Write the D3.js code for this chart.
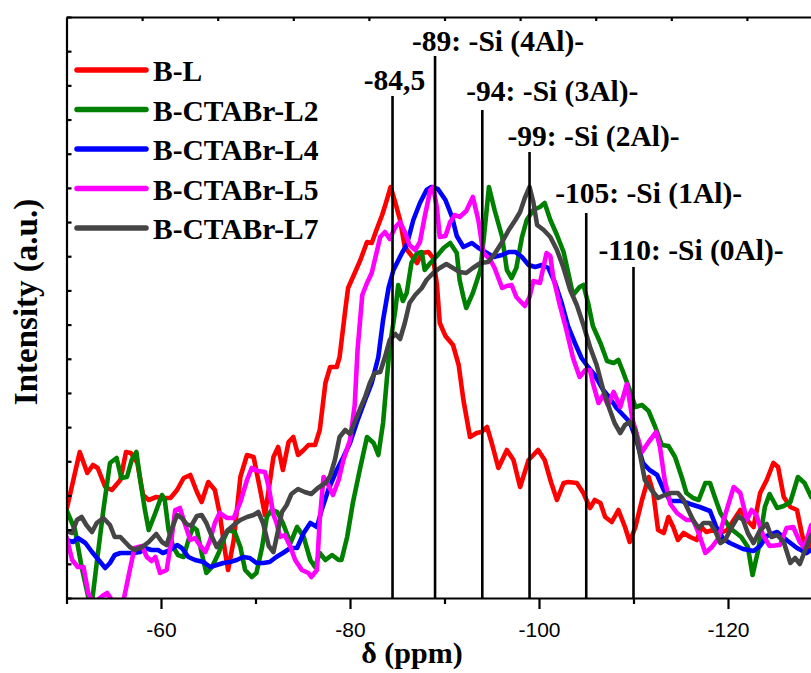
<!DOCTYPE html>
<html>
<head>
<meta charset="utf-8">
<script src="https://cdn.jsdelivr.net/npm/d3@7"></script>
<style>
  html, body { margin: 0; padding: 0; background: #ffffff; }
  svg { display: block; }
</style>
</head>
<body>
<svg id="chart" width="811" height="673"></svg>
<script>
// 29Si MAS NMR spectra: chemical shift (ppm) vs. intensity (a.u.)
const seriesNames = ["B-L", "B-CTABr-L2", "B-CTABr-L4", "B-CTABr-L5", "B-CTABr-L7"];

const blPpm = [-50.0,-51.4,-52.2,-52.8,-53.3,-54.1,-54.8,-55.7,-56.3,-56.8,-57.5,-58.1,-58.7,-59.5,-60.2,-61.0,-61.7,-62.4,-63.1,-63.8,-64.3,-65.0,-65.7,-66.2,-66.8,-67.1,-67.7,-68.4,-69.1,-69.8,-70.5,-71.0,-71.9,-72.4,-72.9,-73.5,-74.0,-74.5,-75.1,-75.6,-76.3,-76.8,-77.4,-77.9,-78.6,-78.9,-79.5,-79.8,-80.5,-81.1,-81.8,-82.3,-82.8,-83.4,-83.8,-84.3,-84.8,-85.3,-85.8,-86.3,-87.1,-87.6,-88.3,-88.8,-89.2,-89.5,-90.1,-90.9,-91.5,-92.0,-92.7,-93.4,-93.9,-94.5,-95.0,-95.7,-96.6,-97.3,-98.0,-98.9,-99.9,-100.6,-101.3,-101.9,-102.6,-103.1,-104.0,-104.7,-105.4,-105.9,-106.5,-107.0,-107.7,-108.4,-109.1,-109.6,-110.2,-110.9,-111.6,-112.1,-112.6,-113.2,-113.7,-114.2,-114.7,-115.3,-116.0,-116.7,-117.2,-117.7,-118.4,-119.2,-119.9,-120.6,-121.3,-122.0,-122.7,-123.4,-124.1,-124.8,-125.3,-125.9,-126.6,-127.3,-127.8,-128.3,-128.8];
const blInt = [88,146,125,133,130,111,108,118,146,145,135,103,98,101,100,100,108,120,123,106,96,116,108,85,45,28,58,121,143,141,108,83,141,151,128,156,161,143,148,153,153,168,215,231,231,241,288,310,325,338,356,355,368,383,395,411,395,378,351,345,335,345,346,340,313,275,262,253,233,198,161,165,166,171,155,130,148,138,111,138,148,138,115,98,115,116,115,105,90,98,95,81,76,88,71,56,71,98,121,105,68,65,81,71,58,65,61,58,71,66,68,65,68,78,88,78,71,105,118,135,131,101,91,88,65,45,58];

const l2Ppm = [-50.0,-50.9,-51.6,-52.3,-52.6,-53.2,-53.9,-54.6,-55.3,-55.8,-56.4,-56.9,-57.4,-57.8,-58.3,-58.7,-59.4,-60.1,-60.4,-60.8,-61.3,-61.8,-62.4,-62.9,-63.4,-63.8,-64.3,-64.8,-65.4,-66.1,-66.6,-67.1,-67.8,-68.4,-68.9,-69.6,-70.1,-70.7,-71.2,-71.7,-72.3,-72.9,-73.7,-74.4,-75.1,-75.8,-76.3,-76.8,-77.4,-78.1,-78.8,-79.1,-79.7,-80.3,-81.1,-81.8,-82.5,-83.0,-83.5,-83.8,-84.2,-84.8,-85.1,-85.6,-86.0,-86.5,-87.1,-87.6,-87.9,-88.5,-89.2,-89.9,-90.6,-91.3,-91.6,-92.0,-92.3,-93.0,-93.8,-94.3,-94.7,-95.3,-96.1,-96.6,-97.1,-97.6,-98.2,-98.7,-99.4,-100.1,-100.6,-101.2,-101.9,-102.6,-103.1,-103.6,-104.3,-104.7,-105.2,-105.7,-106.5,-107.2,-107.9,-108.4,-108.9,-109.6,-110.2,-110.9,-111.6,-112.3,-113.0,-113.7,-114.4,-115.1,-115.6,-116.3,-116.9,-117.6,-118.1,-118.6,-119.2,-120.2,-121.4,-122.1,-122.6,-123.2,-123.9,-124.4,-125.2,-125.9,-126.6,-127.4,-128.1,-128.8];
const l2Int = [88,68,31,1,-12,35,88,135,140,120,121,138,146,118,88,68,85,103,98,68,51,43,41,58,71,68,45,25,31,45,58,68,66,51,28,21,25,51,81,88,86,75,55,71,61,38,31,45,38,43,38,38,61,95,131,161,155,143,175,208,251,288,313,297,305,335,345,346,328,335,342,350,355,345,318,301,290,305,328,373,411,388,361,328,320,330,361,378,388,391,395,378,363,346,325,303,311,313,295,272,255,237,235,238,226,208,191,193,187,171,153,152,141,121,105,100,98,115,115,101,85,70,61,51,23,48,91,104,90,92,96,121,115,101];

const l4Ppm = [-50.0,-50.7,-51.2,-52.0,-52.7,-53.4,-54.1,-54.6,-55.1,-55.7,-56.4,-57.1,-57.8,-58.3,-59.0,-59.7,-60.2,-61.0,-61.7,-62.2,-62.9,-63.6,-64.5,-65.2,-65.9,-66.6,-67.3,-68.0,-68.7,-69.4,-70.1,-70.8,-71.5,-72.2,-72.9,-73.7,-74.4,-75.1,-75.8,-76.5,-77.0,-77.7,-78.6,-79.3,-80.0,-80.7,-81.6,-82.3,-83.0,-83.5,-84.1,-84.6,-85.5,-86.0,-86.7,-87.4,-88.1,-88.6,-89.3,-90.1,-90.8,-91.3,-92.0,-92.9,-93.6,-94.5,-95.2,-96.1,-96.8,-97.5,-98.2,-98.9,-99.6,-100.3,-101.0,-101.7,-102.4,-103.1,-103.8,-104.5,-105.2,-105.9,-106.8,-107.5,-108.2,-108.9,-109.6,-110.3,-111.0,-111.7,-112.5,-113.2,-113.9,-115.1,-116.0,-117.0,-118.1,-118.8,-119.5,-120.2,-121.6,-122.7,-123.4,-124.1,-125.2,-126.2,-127.3,-128.3,-128.8];
const l4Int = [58,56,60,55,46,38,30,35,43,45,45,45,46,50,48,48,45,48,53,50,41,38,36,31,33,35,36,38,41,40,35,35,36,41,45,50,50,65,75,71,88,108,128,141,155,175,198,215,241,278,311,328,345,353,378,395,408,411,409,398,381,362,351,355,350,345,341,343,346,346,341,333,331,333,330,315,295,271,255,240,231,223,208,200,190,183,176,158,135,128,123,108,97,97,94,91,87,70,59,55,49,47,52,62,66,58,50,45,48];

const l5Ppm = [-50.0,-50.6,-51.2,-51.8,-52.3,-52.8,-53.3,-53.8,-54.3,-54.8,-55.4,-56.0,-56.7,-57.2,-58.0,-58.5,-59.0,-59.4,-59.9,-60.6,-61.1,-61.5,-62.0,-62.5,-63.1,-63.6,-64.1,-64.7,-65.2,-65.7,-66.2,-67.0,-67.7,-68.4,-69.1,-69.6,-70.3,-71.0,-71.4,-71.9,-72.2,-72.6,-73.1,-73.7,-74.2,-74.9,-75.6,-75.9,-76.5,-76.8,-77.2,-77.7,-78.2,-78.8,-79.3,-80.0,-80.5,-80.8,-81.3,-81.8,-82.3,-82.8,-83.2,-83.7,-84.2,-84.8,-85.3,-85.8,-86.3,-86.9,-87.4,-87.9,-88.5,-88.8,-89.2,-89.5,-90.1,-90.6,-91.1,-91.6,-92.3,-93.0,-93.6,-94.1,-94.8,-95.3,-96.1,-96.6,-97.1,-97.6,-98.5,-99.0,-99.4,-100.1,-100.8,-101.2,-101.5,-102.2,-102.9,-103.6,-104.3,-104.9,-105.4,-105.7,-106.3,-106.8,-107.3,-107.9,-108.6,-109.3,-109.9,-110.9,-111.6,-112.4,-112.8,-113.3,-113.9,-114.6,-115.6,-116.3,-116.9,-117.6,-118.3,-119.0,-119.7,-120.6,-121.3,-122.0,-122.5,-123.0,-123.7,-124.4,-125.5,-126.2,-126.9,-127.6,-128.1,-128.8];
const l5Int = [61,38,31,31,5,-5,-2,2,5,-2,-6,-4,28,50,52,41,37,41,25,28,58,88,90,75,58,60,53,46,58,75,85,80,80,96,118,130,127,126,111,83,76,61,63,51,38,28,25,21,28,78,121,113,103,118,138,158,193,248,303,315,325,345,361,366,359,371,376,366,353,348,356,381,408,411,390,361,362,376,383,381,387,401,377,345,339,330,310,312,313,301,292,301,317,315,345,342,321,293,268,240,221,228,228,215,195,203,193,206,191,214,178,146,156,166,151,118,94,85,78,78,65,45,51,60,83,111,105,78,88,83,63,52,53,70,71,56,50,73];

const l7Ppm = [-50.0,-50.6,-51.1,-51.6,-52.1,-52.7,-53.2,-53.9,-54.6,-55.1,-55.7,-56.2,-56.7,-57.2,-58.0,-58.7,-59.5,-60.1,-60.6,-61.1,-61.7,-62.2,-62.7,-63.2,-63.8,-64.3,-64.8,-65.4,-65.9,-66.4,-67.0,-67.7,-68.4,-69.1,-69.8,-70.3,-70.8,-71.4,-71.9,-72.4,-72.8,-73.3,-73.8,-74.5,-75.2,-75.9,-76.6,-77.4,-77.9,-78.4,-78.9,-79.5,-80.0,-80.5,-81.1,-81.6,-82.1,-82.6,-83.2,-83.7,-84.2,-84.8,-85.3,-85.8,-86.3,-86.9,-87.6,-88.1,-88.8,-89.5,-90.2,-90.9,-91.6,-92.3,-93.0,-93.8,-94.6,-95.3,-96.1,-96.8,-97.5,-98.0,-98.5,-99.0,-99.4,-99.8,-100.5,-101.2,-101.9,-102.6,-103.3,-104.0,-104.7,-105.4,-106.1,-106.8,-107.5,-108.0,-108.6,-109.1,-109.6,-110.2,-110.7,-111.2,-111.9,-112.6,-113.3,-114.0,-114.7,-115.3,-115.8,-116.3,-116.9,-117.4,-118.1,-118.6,-119.2,-119.7,-120.4,-121.1,-121.6,-122.1,-122.7,-123.4,-124.1,-124.6,-125.2,-125.9,-126.6,-127.1,-127.6,-128.3,-128.8];
const l7Int = [67,65,78,81,73,66,75,80,73,61,61,56,51,48,51,56,64,56,53,68,83,80,74,72,82,83,75,61,51,58,67,73,78,81,83,86,75,52,46,68,86,93,104,109,106,104,110,115,122,138,161,168,164,176,190,201,215,225,226,241,258,264,259,275,295,303,310,318,325,330,334,330,326,325,330,335,336,344,356,368,378,386,400,411,396,373,368,361,348,330,308,293,273,251,233,208,188,175,165,173,176,168,143,118,108,100,103,105,105,98,88,78,70,75,75,68,55,58,71,82,78,65,55,68,74,61,63,56,35,40,34,51,63];

const seriesPpm = [blPpm, l2Ppm, l4Ppm, l5Ppm, l7Ppm];
const seriesInt = [blInt, l2Int, l4Int, l5Int, l7Int];

// Q4(nAl) assignment markers
const peakPpm = [-84.5, -89, -94, -99, -105, -110];
const peakLabels = ["-84,5", "-89: -Si (4Al)-", "-94: -Si (3Al)-", "-99: -Si (2Al)-", "-105: -Si (1Al)-", "-110: -Si (0Al)-"];

// axis ticks
const xMajorTicks = [-60, -80, -100, -120];
const xTickLabels = ["-60", "-80", "-100", "-120"];
const xMinorTicks = [-50, -70, -90, -110, -130];

// ---------- layout & style ----------
const colors = ["#ff0000", "#008000", "#0000ff", "#ff00ff", "#454545"];
const serif = "'Liberation Serif','Times New Roman',Times,serif";
const sans = "'Liberation Sans',Arial,Helvetica,sans-serif";
const plot = { left: 66.5, right: 822.5, top: 17, bottom: 598 };
// label placement: dx from the marker line, text baseline, marker top (px)
const markerLayout = [
  { anchor: "middle", dx: 2, base: 90, top: 96 },
  { anchor: "start", dx: -23, base: 51, top: 56 },
  { anchor: "start", dx: -16, base: 101, top: 110 },
  { anchor: "start", dx: -22, base: 146, top: 152 },
  { anchor: "start", dx: -31, base: 203, top: 213 },
  { anchor: "start", dx: -35, base: 260, top: 267 }
];

const svg = d3.select("#chart");
svg.append("rect").attr("width", 811).attr("height", 673).attr("fill", "#fff");

const x = d3.scaleLinear().domain([-50, -130]).range([plot.left, plot.right]);
const y = d3.scaleLinear().domain([0, 581]).range([plot.bottom, plot.top]);

svg.append("defs").append("clipPath").attr("id", "plotClip")
  .append("rect")
  .attr("x", plot.left).attr("y", plot.top)
  .attr("width", plot.right - plot.left).attr("height", plot.bottom - plot.top);

// ---------- spectra ----------
const line = d3.line().x(d => x(d[0])).y(d => y(d[1]));
const curves = svg.append("g").attr("clip-path", "url(#plotClip)");
seriesPpm.forEach((ppm, i) => {
  curves.append("path")
    .datum(d3.zip(ppm, seriesInt[i]))
    .attr("d", line)
    .attr("fill", "none")
    .attr("stroke", colors[i])
    .attr("stroke-width", 4.6)
    .attr("stroke-linejoin", "round")
    .attr("stroke-linecap", "round");
});

// ---------- marker lines ----------
const markers = svg.append("g");
peakPpm.forEach((v, i) => {
  const L = markerLayout[i];
  markers.append("line")
    .attr("x1", x(v)).attr("x2", x(v))
    .attr("y1", L.top).attr("y2", plot.bottom)
    .attr("stroke", "#000").attr("stroke-width", 2.6);
  markers.append("text")
    .attr("x", x(v) + L.dx).attr("y", L.base)
    .attr("text-anchor", L.anchor)
    .attr("font-family", serif).attr("font-weight", "bold")
    .attr("font-size", "29.5px").attr("fill", "#000")
    .text(peakLabels[i]);
});

// ---------- axes ----------
function styleAxis(g) {
  g.select(".domain").attr("stroke", "#000").attr("stroke-width", 2.2);
  g.selectAll(".tick line").attr("stroke", "#000").attr("stroke-width", 2.2);
}

const gx = svg.append("g").attr("transform", `translate(0,${plot.bottom})`)
  .call(d3.axisBottom(x).tickValues(xMajorTicks).tickSize(11).tickSizeOuter(0)
    .tickFormat((d, i) => xTickLabels[i]));
styleAxis(gx);
gx.selectAll(".tick text")
  .attr("y", 38.5).attr("dy", null)
  .attr("font-family", sans).attr("font-size", "21px").attr("fill", "#000");

const gxMinor = svg.append("g").attr("transform", `translate(0,${plot.bottom})`)
  .call(d3.axisBottom(x).tickValues(xMinorTicks).tickSize(6).tickFormat(""));
gxMinor.select(".domain").remove();
styleAxis(gxMinor);

const gTop = svg.append("g").attr("transform", `translate(0,${plot.top})`)
  .call(d3.axisBottom(x).tickValues(d3.range(-58, -131, -8)).tickSize(4).tickSizeOuter(0).tickFormat(""));
styleAxis(gTop);

const yTicks = d3.range(18).map(i => i * 581 / 17);
const gy = svg.append("g").attr("transform", `translate(${plot.left},0)`)
  .call(d3.axisRight(y).tickValues(yTicks).tickSize(5).tickSizeOuter(0).tickFormat(""));
styleAxis(gy);

// axis titles
svg.append("text")
  .attr("x", 412).attr("y", 663)
  .attr("text-anchor", "middle")
  .attr("font-family", serif).attr("font-weight", "bold").attr("font-size", "30px")
  .attr("fill", "#000")
  .text("δ (ppm)");

svg.append("text")
  .attr("transform", "translate(37,302) rotate(-90)")
  .attr("text-anchor", "middle")
  .attr("font-family", serif).attr("font-weight", "bold").attr("font-size", "33px")
  .attr("fill", "#000")
  .text("Intensity (a.u.)");

// ---------- legend ----------
const legend = svg.append("g");
seriesNames.forEach((name, i) => {
  const ly = 70 + i * 39.5;
  legend.append("line")
    .attr("x1", 77).attr("x2", 146).attr("y1", ly).attr("y2", ly)
    .attr("stroke", colors[i]).attr("stroke-width", 5.5).attr("stroke-linecap", "round");
  legend.append("text")
    .attr("x", 153).attr("y", ly + 11)
    .attr("font-family", serif).attr("font-weight", "bold").attr("font-size", "29.5px")
    .attr("fill", "#000")
    .text(name);
});
</script>
</body>
</html>
